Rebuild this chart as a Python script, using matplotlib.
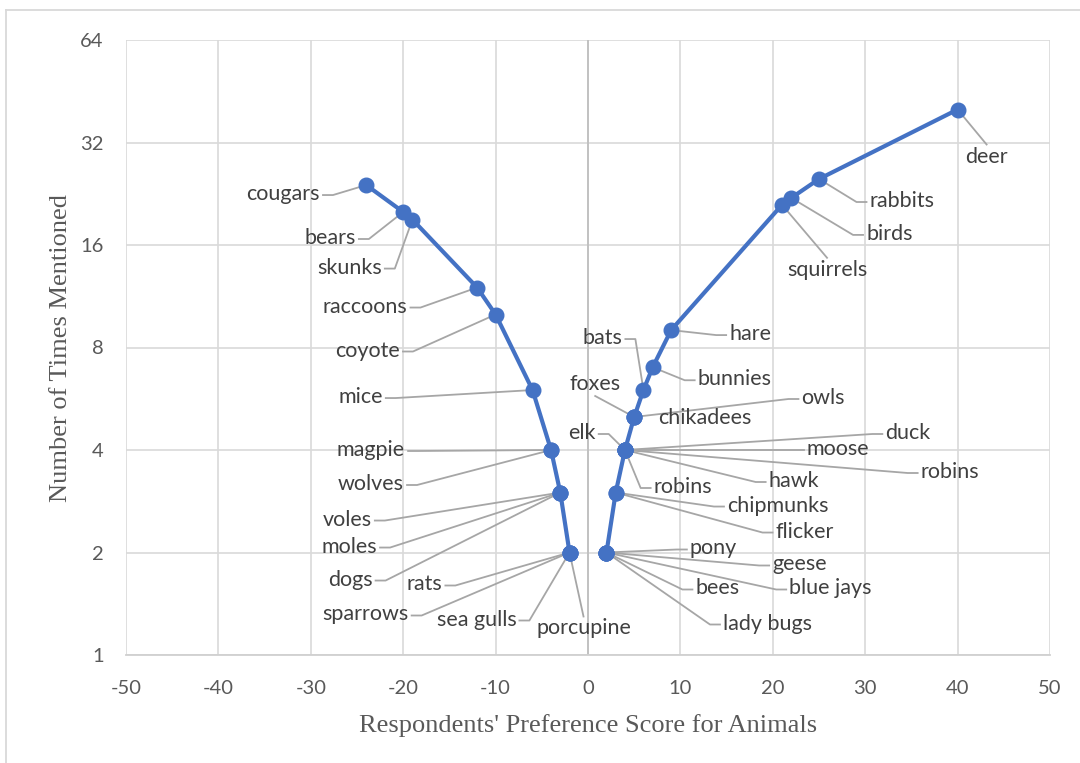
import matplotlib
matplotlib.use("Agg")
import matplotlib.pyplot as plt
import numpy as np
from matplotlib.lines import Line2D

plt.rcParams["axes.unicode_minus"] = False

# animals, preference score, number of times mentioned
animals = ["cougars", "bears", "skunks", "raccoons", "coyote", "mice", "magpie", "wolves",
           "voles", "moles", "dogs", "rats", "sparrows", "sea gulls", "porcupine",
           "deer", "rabbits", "birds", "squirrels", "hare", "bats", "bunnies", "foxes",
           "owls", "chikadees", "elk", "duck", "moose", "hawk", "robins", "robins",
           "chipmunks", "flicker", "pony", "geese", "bees", "blue jays", "lady bugs"]
scores = [-24, -20, -19, -12, -10, -6, -4, -4,
          -3, -3, -3, -2, -2, -2, -2,
          40, 25, 22, 21, 9, 6, 7, 5,
          5, 5, 4, 4, 4, 4, 4, 4,
          3, 3, 2, 2, 2, 2, 2]
counts = [24, 20, 19, 12, 10, 6, 4, 4,
          3, 3, 3, 2, 2, 2, 2,
          40, 25, 22, 21, 9, 6, 7, 5,
          5, 5, 4, 4, 4, 4, 4, 4,
          3, 3, 2, 2, 2, 2, 2]

# label placement: offset of label centre from the point (pixels, y down) and leader side
label_pos = [(-83, 9, "l"), (-73, 26, "l"), (-63, 48, "l"), (-112, 19, "l"), (-128, 36, "l"),
             (-172, 7, "l"), (-180, 0, "l"), (-180, 34, "l"),
             (-213, 27, "l"), (-211, 54, "l"), (-210, 87, "l"), (-145, 32, "l"),
             (-204, 62, "l"), (-93, 67, "l"), (14, 76, "t"),
             (29, 47, "t"), (83, 22, "r"), (98, 36, "r"), (45, 65, "t"), (79, 4, "r"),
             (-41, -52, "l"), (82, 12, "r"), (-39, -33, "b"),
             (189, -19, "r"), (71, 1, None), (-43, -17, "l"), (283, -17, "r"), (213, -1, "r"),
             (169, 31, "r"), (325, 22, "r"), (58, 37, "r"),
             (162, 13, "r"), (189, 39, "r"), (107, -4, "r"), (193, 12, "r"), (111, 36, "r"),
             (224, 36, "r"), (161, 71, "r")]

blue = "#4472C4"
label_font = "Lato"

fig = plt.figure(figsize=(10.8, 7.63), dpi=100)
ax = fig.add_axes([126 / 1080, 1 - 655 / 763, 924 / 1080, 615 / 763])

x = np.array(scores)
y = np.array(counts)
neg = x < 0
pos = x > 0
for m in (neg, pos):
    order = np.argsort(x[m], kind="stable")
    ax.plot(x[m][order], y[m][order], color=blue, lw=3, marker="o", ms=10.5,
            zorder=5, solid_capstyle="round")

ax.set_yscale("log", base=2)
ax.set_xlim(-50, 50)
ax.set_ylim(1, 64)
ax.set_xticks(np.arange(-50, 51, 10))
ax.set_yticks([1, 2, 4, 8, 16, 32, 64])
ax.set_yticklabels(["1", "2", "4", "8", "16", "32", "64"])
ax.minorticks_off()
ax.grid(True, color="#d9d9d9", lw=1.2)
ax.set_axisbelow(True)
for s in ax.spines.values():
    s.set_visible(False)
ax.axvline(0, color="#bfbfbf", lw=1.3, zorder=1)
ax.axhline(1, color="#d0d0d0", lw=1.3, zorder=1, clip_on=False)
ax.tick_params(length=0, labelsize=14.5, labelcolor="#595959")
ax.tick_params(axis="x", pad=18)
ax.tick_params(axis="y", pad=16)
for t in ax.get_xticklabels() + ax.get_yticklabels():
    t.set_fontfamily(label_font)

ax.set_xlabel("Respondents' Preference Score for Animals", fontfamily="Liberation Serif",
              fontsize=19, color="#595959", labelpad=12)
ax.set_ylabel("Number of Times Mentioned", fontfamily="Liberation Serif",
              fontsize=19, color="#595959", labelpad=6)

# data labels
texts = []
for name, sx, cy, (dx, dy, side) in zip(animals, scores, counts, label_pos):
    t = ax.annotate(name, (sx, cy), xytext=(dx, -dy), textcoords="offset pixels",
                    ha="center", va="center", fontsize=15.5, color="#404040",
                    fontfamily=label_font, zorder=6)
    texts.append((t, sx, cy, side))

fig.canvas.draw()
r = fig.canvas.get_renderer()
inv = ax.transData.inverted()
for t, sx, cy, side in texts:
    if side is None:
        continue
    bb = t.get_window_extent(r)
    px, py = ax.transData.transform((sx, cy))
    mx = (bb.x0 + bb.x1) / 2
    my = (bb.y0 + bb.y1) / 2 - 1
    if side == "l":
        pts = [(bb.x1 + 3, my), (bb.x1 + 13, my), (px, py)]
    elif side == "r":
        pts = [(bb.x0 - 3, my), (bb.x0 - 13, my), (px, py)]
    elif side == "t":
        pts = [(mx, bb.y1 + 2), (px, py)]
    else:
        pts = [(mx, bb.y0 - 2), (px, py)]
    d = inv.transform(pts)
    ax.plot(d[:, 0], d[:, 1], color="#a6a6a6", lw=1.3, zorder=3, clip_on=False)

# chart area border
fig.add_artist(Line2D([6 / 1080, 6 / 1080], [0, 1 - 10 / 763], color="#d9d9d9", lw=1.3))
fig.add_artist(Line2D([6 / 1080, 1], [1 - 10 / 763, 1 - 10 / 763], color="#d9d9d9", lw=1.3))

fig.savefig("out.png", dpi=100, facecolor="white")
